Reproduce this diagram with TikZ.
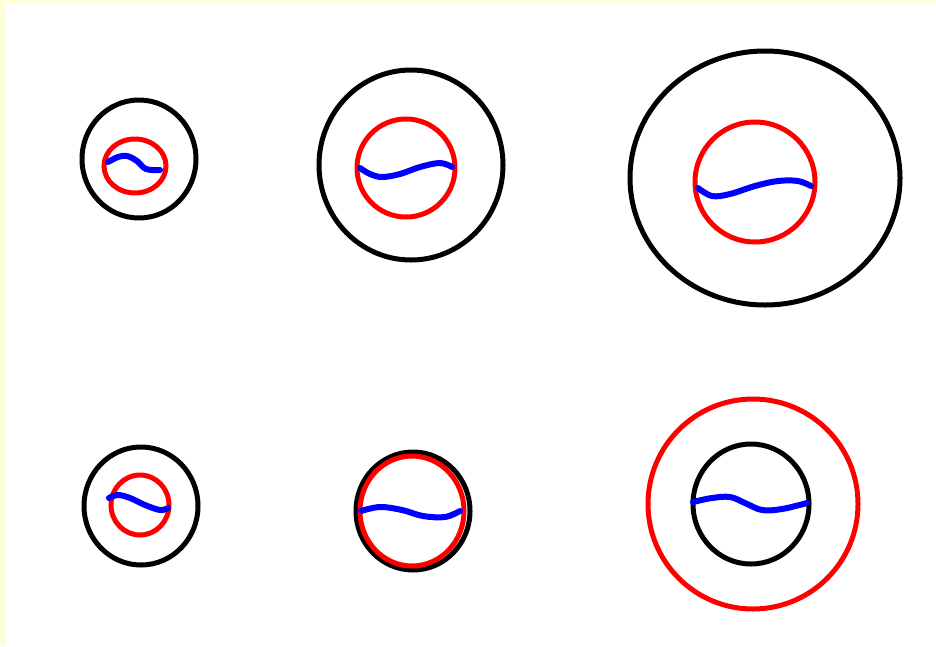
\documentclass[tikz,border=0pt]{standalone}
\definecolor{edgeyellow}{RGB}{255,255,215}
\definecolor{pblue}{RGB}{0,0,255}
\definecolor{pred}{RGB}{255,0,0}
\tikzset{
  blackring/.style={draw=black,line width=5pt},
  redring/.style={draw=pred,line width=5pt},
  wave/.style={draw=pblue,line width=6pt,line cap=round,line join=round}
}
\begin{document}
\begin{tikzpicture}[x=1pt,y=-1pt]
\fill[edgeyellow] (0,0) rectangle (936,646);
\fill[white] (6,3) rectangle (936,646);
\useasboundingbox (0,0) rectangle (936,646);
% top row
\draw[blackring] (139,159) ellipse [x radius=57,y radius=59];
\draw[redring] (135,166) ellipse [x radius=31,y radius=27];
\draw[wave] plot[smooth,tension=0.6] coordinates {(108,162) (118,157) (127,156) (137,161) (146,169) (160,170)};

\draw[blackring] (411,165) ellipse [x radius=92,y radius=95];
\draw[redring] (406,168) circle [radius=49];
\draw[wave] plot[smooth,tension=0.6] coordinates {(360,168) (370,174) (382,177) (400,174) (420,167) (440,163) (452,167)};

\draw[blackring] (765,178) ellipse [x radius=135,y radius=127];
\draw[redring] (755,182) circle [radius=60];
\draw[wave] plot[smooth,tension=0.6] coordinates {(698,188) (712,196) (730,194) (755,186) (778,181) (798,181) (811,186)};

% bottom row
\draw[blackring] (141,506) ellipse [x radius=57,y radius=59];
\draw[redring] (140,505) ellipse [x radius=29,y radius=30];
\draw[wave] plot[smooth,tension=0.6] coordinates {(109,498) (118,495) (130,498) (145,505) (160,510) (168,508)};

\draw[blackring] (413,511) ellipse [x radius=57,y radius=59];
\draw[redring] (412,511) ellipse [x radius=52,y radius=55];
\draw[wave] plot[smooth,tension=0.6] coordinates {(361,511) (380,507) (402,510) (423,516) (445,517) (460,511)};

\draw[redring] (753,504) circle [radius=105];
\draw[blackring] (751,504) ellipse [x radius=58,y radius=60];
\draw[wave] plot[smooth,tension=0.6] coordinates {(693,502) (712,498) (730,497) (745,503) (762,510) (782,509) (807,503)};
\end{tikzpicture}
\end{document}
